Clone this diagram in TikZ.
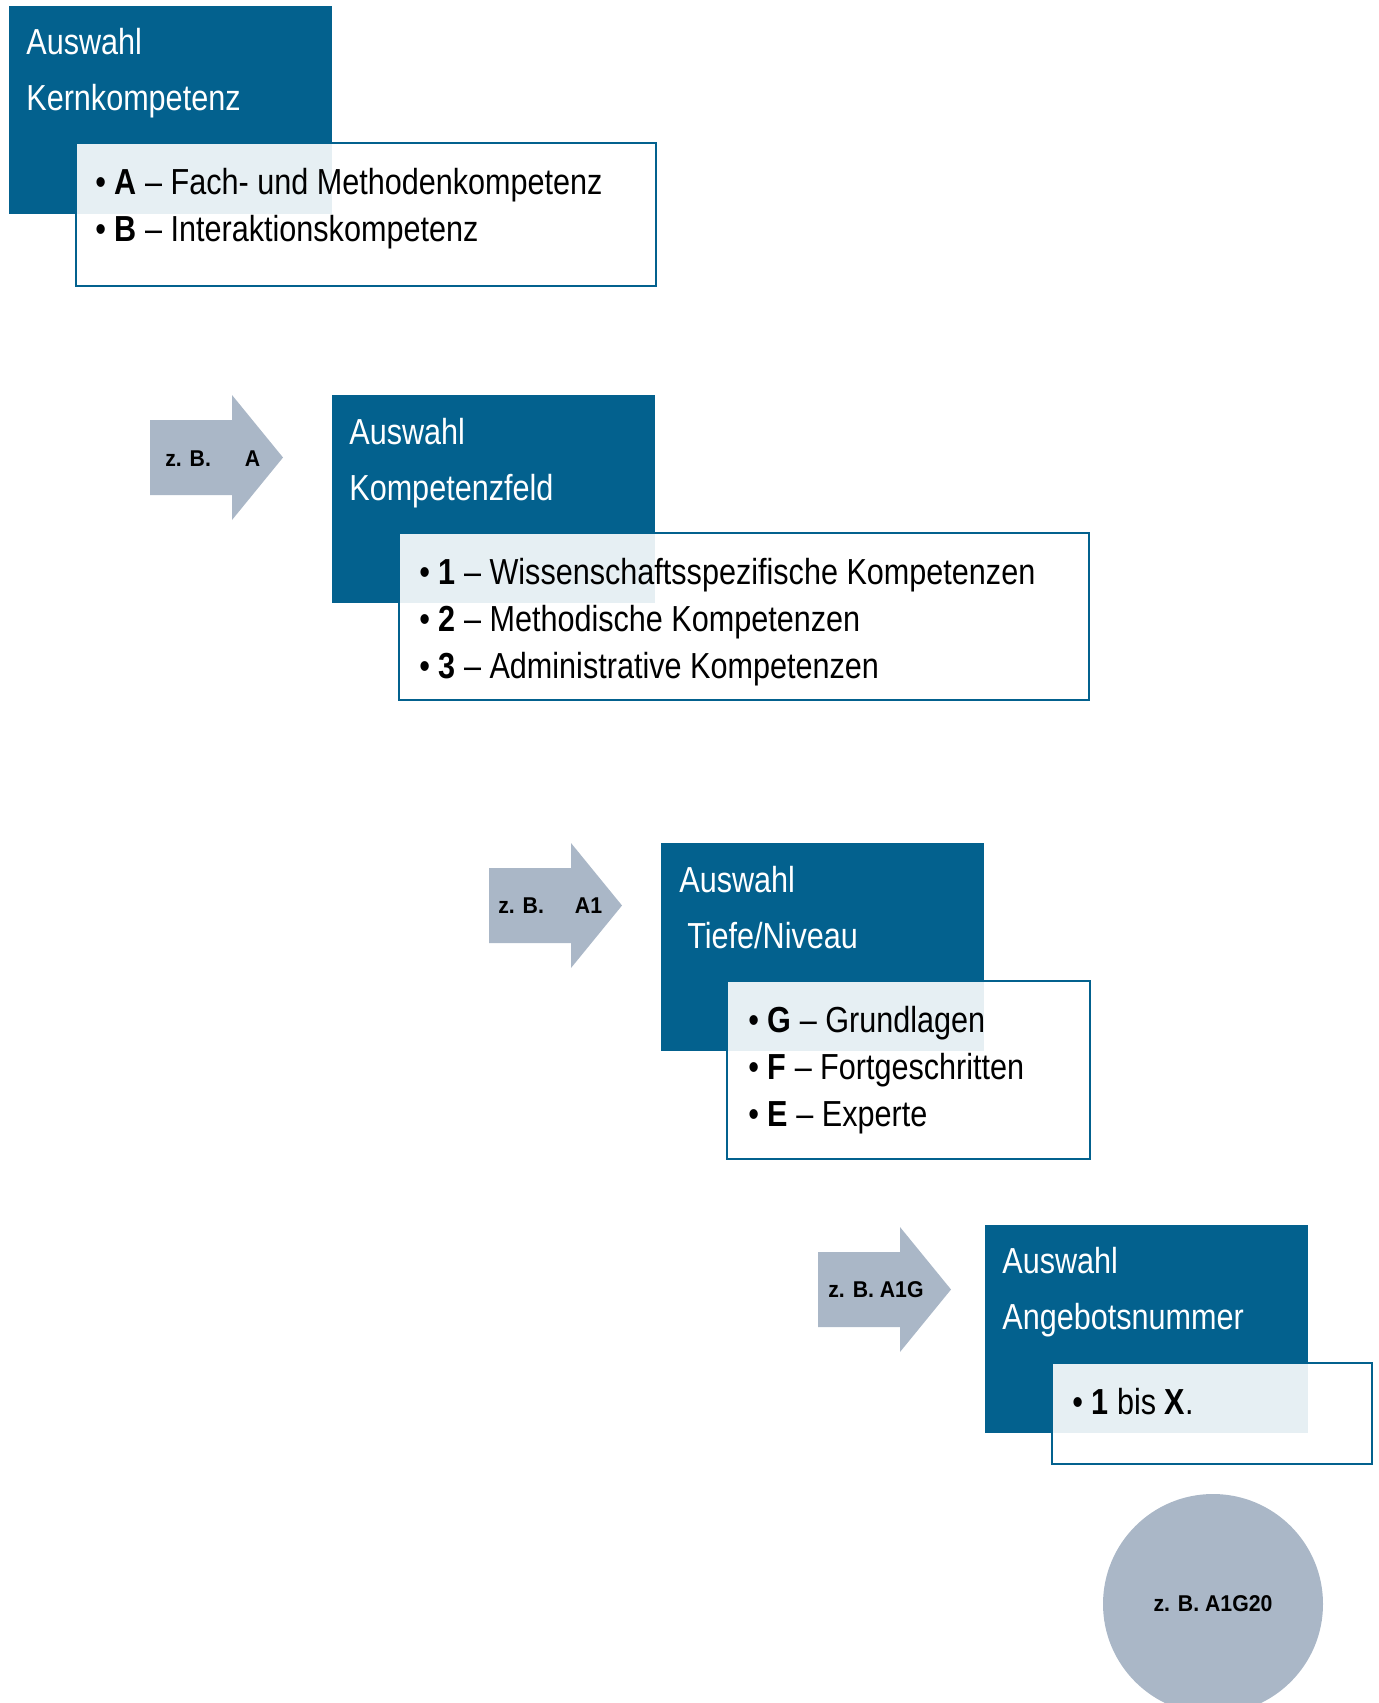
\documentclass[tikz,border=0pt]{standalone}
\usepackage{fontspec}
\setmainfont{Liberation Sans}[FakeStretch=0.845]
\newfontfamily\zbfont{Liberation Sans}[FakeStretch=0.93]
\definecolor{kernblau}{HTML}{03618E}
\definecolor{zbgrau}{HTML}{AAB7C7}

\begin{document}
\begin{tikzpicture}[
  auswahl/.style={fill=kernblau,anchor=north west,inner sep=0pt,
    minimum width=6.46cm,minimum height=4.16cm},
  liste/.style={draw=kernblau,fill=white,fill opacity=0.9,anchor=north west,
    inner sep=0pt,line width=1.1pt},
  titel/.style={anchor=north west,inner sep=0pt,align=left,text=white,
    font=\fontsize{20.6}{31.9}\selectfont},
  punkte/.style={anchor=north west,inner sep=0pt,align=left,
    font=\fontsize{20.6}{26.7}\selectfont},
  zbpfeil/.style={fill=zbgrau},
  zbtext/.style={anchor=base west,inner sep=0pt,
    font=\zbfont\fontsize{13}{15}\selectfont\bfseries}
]
\useasboundingbox (0,0) rectangle (27.56,-34.06);
% Kernkompetenz
\node[auswahl] (k1) at (0.18,-0.12) {};
\node[liste,minimum width=11.60cm,minimum height=2.86cm] (l1) at (1.50,-2.84) {};
\node[titel] (t1) at (0.52,-0.56) {Auswahl\\Kernkompetenz};
\node[punkte] (p1) at (1.90,-3.36)
  {• \textbf{A} -- Fach- und Methodenkompetenz\\• \textbf{B} -- Interaktionskompetenz};
% Kompetenzfeld
\fill[zbpfeil] (3.00,-8.40) -- (4.64,-8.40) -- (4.64,-7.90) -- (5.66,-9.15)
  -- (4.64,-10.40) -- (4.64,-9.90) -- (3.00,-9.90) -- cycle;
\node[zbtext] (zb2) at (3.30,-9.32) {z. B.\hspace{0.68cm}A};
\node[auswahl] (k2) at (6.64,-7.90) {};
\node[liste,minimum width=13.80cm,minimum height=3.34cm] (l2) at (7.96,-10.64) {};
\node[titel] (t2) at (6.98,-8.36) {Auswahl\\Kompetenzfeld};
\node[punkte] (p2) at (8.38,-11.16)
  {• \textbf{1} -- Wissenschaftsspezifische Kompetenzen\\
   • \textbf{2} -- Methodische Kompetenzen\\
   • \textbf{3} -- Administrative Kompetenzen};
% Tiefe/Niveau
\fill[zbpfeil] (9.78,-17.36) -- (11.42,-17.36) -- (11.42,-16.86) -- (12.44,-18.11)
  -- (11.42,-19.36) -- (11.42,-18.86) -- (9.78,-18.86) -- cycle;
\node[zbtext] (zb3) at (9.96,-18.26) {z. B.\hspace{0.62cm}A1};
\node[auswahl] (k3) at (13.22,-16.86) {};
\node[liste,minimum width=7.26cm,minimum height=3.56cm] (l3) at (14.52,-19.60) {};
\node[titel] (t3) at (13.58,-17.32) {Auswahl\\\hspace*{0.16cm}Tiefe/Niveau};
\node[punkte] (p3) at (14.96,-20.12)
  {• \textbf{G} -- Grundlagen\\• \textbf{F} -- Fortgeschritten\\• \textbf{E} -- Experte};
% Angebotsnummer
\fill[zbpfeil] (16.36,-25.04) -- (18.00,-25.04) -- (18.00,-24.54) -- (19.02,-25.79)
  -- (18.00,-27.04) -- (18.00,-26.54) -- (16.36,-26.54) -- cycle;
\node[zbtext] (zb4) at (16.56,-25.94) {z. B. A1G};
\node[auswahl] (k4) at (19.70,-24.50) {};
\node[liste,minimum width=6.40cm,minimum height=2.02cm] (l4) at (21.02,-27.24) {};
\node[titel] (t4) at (20.04,-24.94) {Auswahl\\Angebotsnummer};
\node[punkte] (p4) at (21.44,-27.76) {• \textbf{1} bis \textbf{X}.};
% Ergebnis
\node[circle,fill=zbgrau,minimum size=4.4cm,inner sep=0pt,
  font=\zbfont\fontsize{13}{15}\selectfont\bfseries] (nr) at (24.26,-32.08) {z. B. A1G20};
\end{tikzpicture}
\end{document}
